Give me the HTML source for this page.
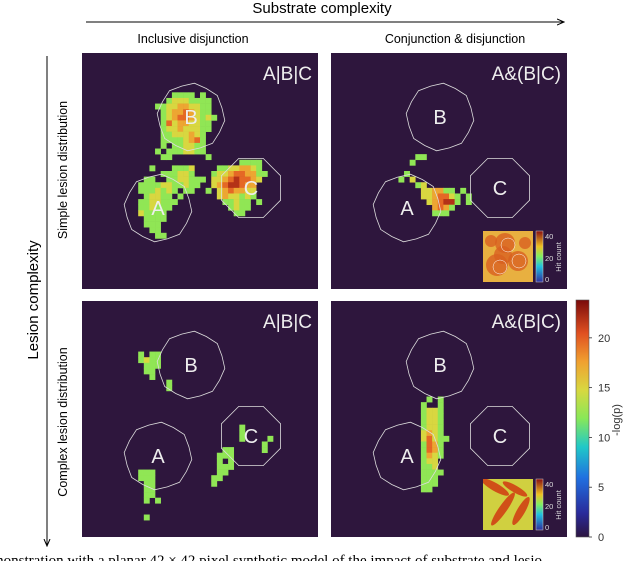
<!DOCTYPE html>
<html><head><meta charset="utf-8"><style>
html,body{margin:0;padding:0;background:#fff;width:640px;height:561px;overflow:hidden}
svg{display:block;font-family:"Liberation Sans",sans-serif}
</style></head><body>
<svg id="fig" width="640" height="561" viewBox="0 0 640 561">
<defs>
<linearGradient id="jet" x1="0" y1="1" x2="0" y2="0">
<stop offset="0" stop-color="#2c1540"/><stop offset="0.1" stop-color="#2a2a9a"/><stop offset="0.25" stop-color="#2070e0"/><stop offset="0.38" stop-color="#20c8c8"/><stop offset="0.5" stop-color="#88e858"/><stop offset="0.62" stop-color="#d8d840"/><stop offset="0.74" stop-color="#f0a030"/><stop offset="0.86" stop-color="#e05020"/><stop offset="1" stop-color="#7a0a0a"/>
</linearGradient>
<linearGradient id="jetS" x1="0" y1="1" x2="0" y2="0">
<stop offset="0" stop-color="#3030a0"/><stop offset="0.3" stop-color="#20c0e0"/><stop offset="0.5" stop-color="#80f060"/><stop offset="0.7" stop-color="#f0c020"/><stop offset="1" stop-color="#8a1010"/>
</linearGradient>
<clipPath id="insetClip"><rect x="0" y="0" width="50" height="51"/></clipPath>
<marker id="ah" markerWidth="8" markerHeight="8" refX="7" refY="4" orient="auto"><path d="M0,1 L7,4 L0,7" fill="none" stroke="#000" stroke-width="1"/></marker>
</defs>
<text x="322" y="13" font-size="15" text-anchor="middle">Substrate complexity</text>
<line x1="86" y1="22" x2="564" y2="22" stroke="#000" stroke-width="1" marker-end="url(#ah)"/>
<text x="193" y="43" font-size="12.5" text-anchor="middle">Inclusive disjunction</text>
<text x="455" y="43" font-size="12.5" text-anchor="middle">Conjunction &amp; disjunction</text>
<text transform="translate(38,300) rotate(-90)" font-size="15" text-anchor="middle">Lesion complexity</text>
<line x1="47" y1="56" x2="47" y2="546" stroke="#000" stroke-width="1" marker-end="url(#ah)"/>
<text transform="translate(67,170) rotate(-90)" font-size="12.5" text-anchor="middle">Simple lesion distribution</text>
<text transform="translate(67,422) rotate(-90)" font-size="12.5" text-anchor="middle">Complex lesion distribution</text>
<g id="panels"></g>
<rect x="576" y="300" width="13" height="237" fill="url(#jet)" stroke="#555" stroke-width="0.6"/>
<g id="cbticks"></g>
<text transform="translate(620,420) rotate(-90)" font-size="11" text-anchor="middle" fill="#333">-log(p)</text>
<text x="-8" y="565" font-size="15" font-family="Liberation Serif,serif">monstration with a planar 42 × 42 pixel synthetic model of the impact of substrate and lesio</text>
</svg>
<script>
// Heatmap data: each entry "row:startCol:levels", level digit d -> -log(p) value via levelValue
const panelTitles = ["A|B|C","A&(B|C)","A|B|C","A&(B|C)"];
const cbTicks = [0,5,10,15,20];
const cbMax = 23.8;
const levelValue = [0,2.3,4.6,6.9,9.2,12.2,14.8,17.3,19.6,21.9];
const grid1 = ["7:16:5555.5","8:15:56665555","9:13:5566776655","10:14:567787655","11:14:5678876565","12:14:586776655","13:14:566766655","14:14:55666765","15:14:55556785","16:14:5.556655","17:13:5.5556655","18:14:55......5","20:12:5...5556","21:15:55665","22:17:6655","23:17:5655","24:18:55",
"19:28:5555","20:24:55667765","21:23:5667887755","22:21:5.667898876","23:23:67899877","24:22:5.6787766","25:24:6766565","26:25:55655.5","27:26:5655","28:27:55",
"21:14:5","22:11:55..556","23:10:55556655","24:10:5556565","25:11:56655.5","26:10:5566555","27:10:556555","28:10:65555","29:11:5555","30:11:555","31:12:55","32:13:55"];
const grid2 = ["18:15:55","19:14:5","21:13:5","22:12:5.6","23:15:56","24:16:667755","25:16:6678865","26:17:678995","27:18:7875","28:18:555","24:23:5","25:24:5","26:24:5"];
const grid3 = ["9:10:5.55","10:10:5655","11:11:555","12:11:55","13:12:5","14:15:5","15:15:5","22:28:5","23:28:5","24:28:5....5","25:32:5","26:25:55","26:32:5","27:24:555","28:24:5.5","29:24:555","30:24:55","31:23:55","32:23:5","30:10:555","31:10:555","32:11:55","33:11:55","34:11:55","35:11:5.5","38:11:5"];
const grid4 = ["17:17:5.5","18:16:5..5","19:16:5665","20:16:5665","21:16:5665","22:16:5665","23:16:6765","24:16:68655","25:16:5875","26:16:5875","27:16:5765","28:16:566","29:16:556","30:16:5555","31:16:555","32:16:555","33:16:55"];
const grids = [grid1,grid2,grid3,grid4];

const NS="http://www.w3.org/2000/svg";
const origins=[[82,53],[331,53],[82,301],[331,301]];
const PS=236, N=42, cs=PS/N;
const cmapStops=[[0,[44,21,64]],[0.1,[42,42,154]],[0.25,[32,112,224]],[0.38,[32,200,200]],[0.5,[136,232,88]],[0.62,[216,216,64]],[0.74,[240,160,48]],[0.86,[224,80,32]],[1,[122,10,10]]];
function cmap(t){t=Math.max(0,Math.min(1,t));for(let i=1;i<cmapStops.length;i++){const [t1,c1]=cmapStops[i],[t0,c0]=cmapStops[i-1];if(t<=t1){const f=(t-t0)/(t1-t0);return `rgb(${c0.map((v,k)=>Math.round(v+(c1[k]-v)*f)).join(',')})`;}}return 'rgb(122,10,10)';}
const xS=c=>c*cs, yS=r=>r*cs;
function mk(tag,attrs,parent){const e=document.createElementNS(NS,tag);for(const k in attrs)e.setAttribute(k,attrs[k]);parent.appendChild(e);return e;}
function poly(cx,cy,r,n,rot,jag){let p=[];for(let i=0;i<n;i++){const a=rot+i*2*Math.PI/n;const rr=r*(jag&&i%2?0.95:1);p.push((cx+rr*Math.cos(a)).toFixed(1)+","+(cy+rr*Math.sin(a)).toFixed(1));}return p.join(" ");}
const panelsG=document.getElementById('panels');
grids.forEach((g,pi)=>{
 const [ox,oy]=origins[pi];
 const pg=mk('g',{transform:`translate(${ox},${oy})`},panelsG);
 
 
 const bg=mk('rect',{x:0,y:0,width:PS,height:PS,fill:'#2e163d'},pg);
 
 
 g.forEach(s=>{const [r,c0,vals]=s.split(':');[...vals].forEach((ch,i)=>{if(ch==='.')return;
  const v=levelValue[+ch];
  const cell=mk('rect',{x:xS(+c0+i).toFixed(2),y:yS(+r).toFixed(2),width:(cs+0.3).toFixed(2),height:(cs+0.3).toFixed(2),fill:cmap(v/cbMax)},pg);
  
  });});
 const shapes=[['A',76,155,34,16,0.1,true],['B',109,64,34,16,0.1,true],['C',169,135,32,8,Math.PI/8,false]];
 shapes.forEach(([L,cx,cy,r,n,rot,j])=>{
  const pl=mk('polygon',{points:poly(cx,cy,r,n,rot,j),fill:'none',stroke:'#ddd','stroke-width':0.8},pg);
  
  
  const t=mk('text',{x:cx,y:cy+7,'font-size':20,fill:'#eee','text-anchor':'middle'},pg);t.textContent=L;
  
  });
 const tt=mk('text',{x:PS-6,y:27,'font-size':19,fill:'#eee','text-anchor':'end'},pg);tt.textContent=panelTitles[pi];
 
 
 if(pi===1||pi===3){
  const ig=mk('g',{transform:'translate(152,178)'},pg);
  
  
  const cg=mk('g',{'clip-path':'url(#insetClip)'},ig);
  mk('rect',{x:0,y:0,width:50,height:51,fill:pi===1?'#e8b040':'#b8e040'},cg);
  if(pi===1){[[22,12,10],[14,34,11],[35,30,10],[20,24,9],[8,10,6],[42,12,6]].forEach(([x,y,r])=>mk('circle',{cx:x,cy:y,r:r,fill:'#d86020',opacity:0.8},cg));
   [[25,14],[17,36],[36,30]].forEach(([x,y])=>mk('circle',{cx:x,cy:y,r:7,fill:'none',stroke:'#fff','stroke-width':0.5},cg));}
  else{mk('rect',{x:0,y:0,width:50,height:51,fill:'#e8c040',opacity:0.5},cg);
   [[12,8,16,4,30],[32,10,14,3.5,30],[20,30,20,4,-55],[38,32,16,4,-60]].forEach(([x,y,rx,ry,a])=>mk('ellipse',{cx:x,cy:y,rx:rx,ry:ry,fill:'#d05018',transform:`rotate(${a} ${x} ${y})`},cg));}
  mk('rect',{x:53,y:0,width:7,height:51,fill:'url(#jetS)',stroke:'#ccc','stroke-width':0.5},ig);
  [['40',8],['20',30],['0',51]].forEach(([s,y])=>{const t=mk('text',{x:62,y:y,'font-size':7.5,fill:'#ddd'},ig);t.textContent=s;
   
   });
  const hc=mk('text',{transform:'translate(78,26) rotate(-90)','font-size':7.5,fill:'#ddd','text-anchor':'middle'},ig);hc.textContent='Hit count';
  
  
 }
});
const ct=document.getElementById('cbticks');
const cbY=v=>537-v*(237/cbMax);
cbTicks.forEach(v=>{
 const l=mk('line',{x1:589,x2:592,y1:cbY(v),y2:cbY(v),stroke:'#333','stroke-width':0.8},ct);
 
 
 const t=mk('text',{x:598,y:cbY(v)+4,'font-size':11,fill:'#333'},ct);t.textContent=v;
 
 
});
</script>
</body></html>
